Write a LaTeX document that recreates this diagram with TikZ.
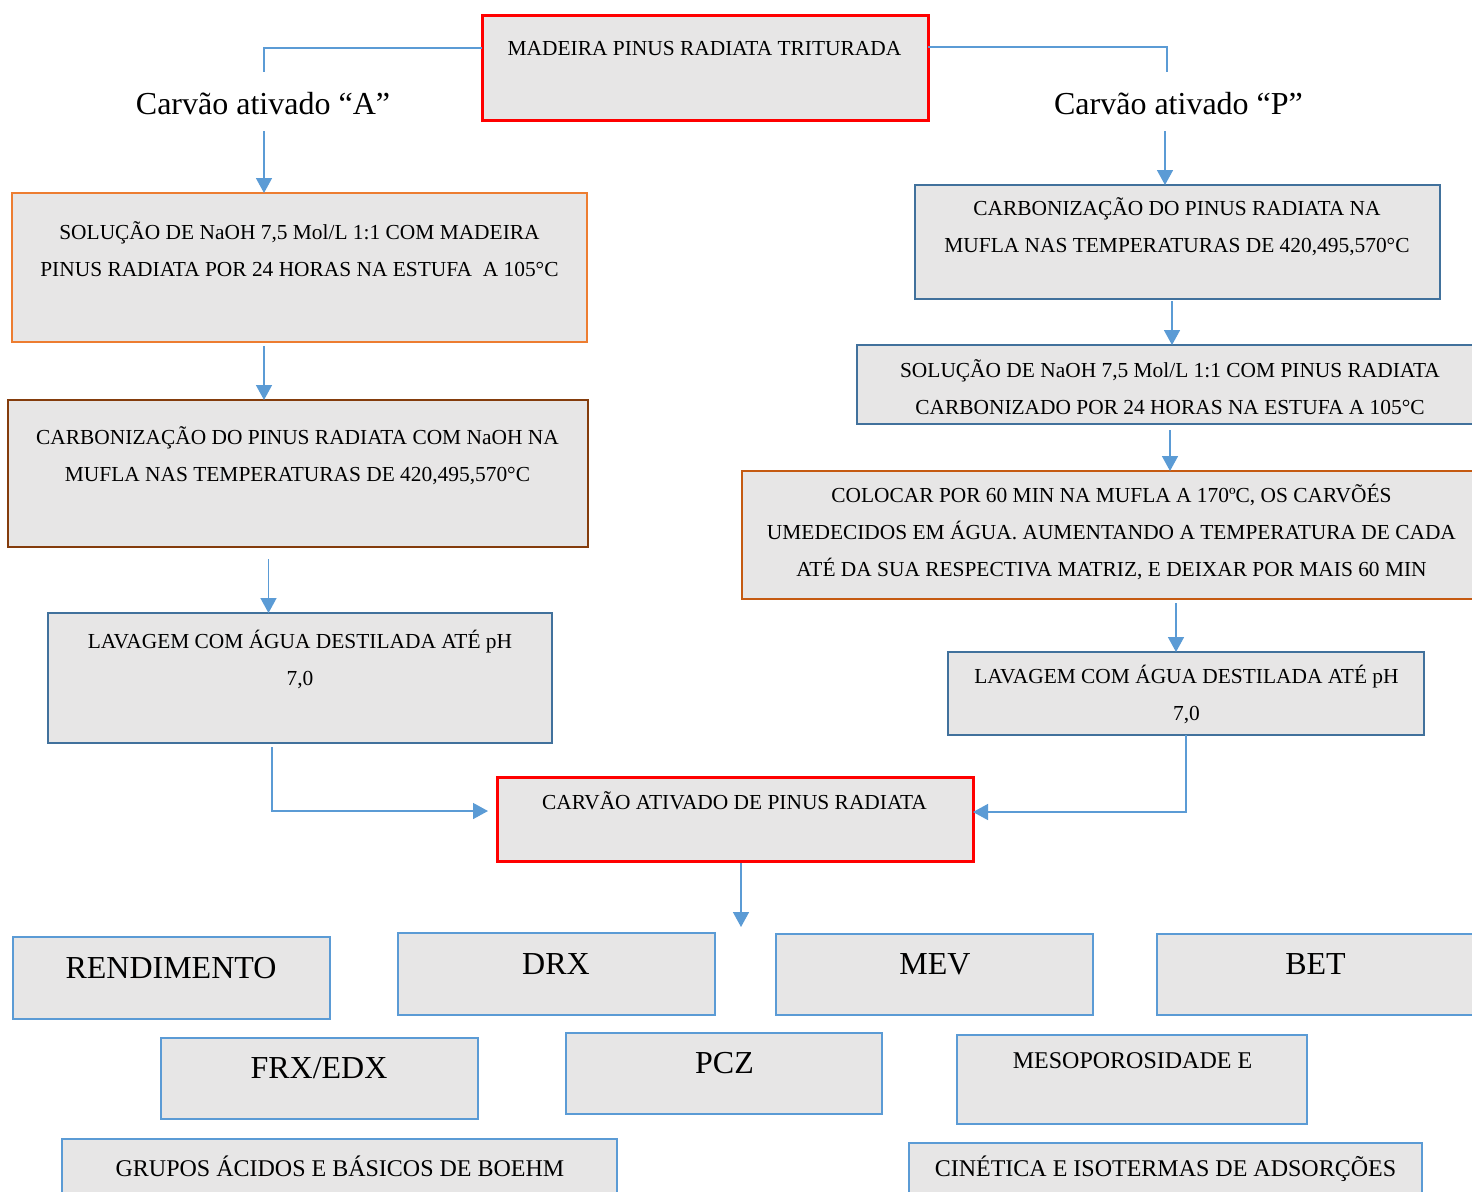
\documentclass[tikz,border=0pt]{standalone}
\usepackage{fontspec}
\setmainfont{Liberation Serif}
\usetikzlibrary{fit,arrows.meta}
\definecolor{boxgray}{HTML}{E7E6E6}
\definecolor{redb}{HTML}{FF0000}
\definecolor{orangeL}{HTML}{ED7D31}
\definecolor{brownb}{HTML}{843C0C}
\definecolor{blueD}{HTML}{41719C}
\definecolor{orangeR}{HTML}{C55A11}
\definecolor{blueL}{HTML}{5B9BD5}
\definecolor{connc}{HTML}{5B9BD5}
\begin{document}
\begin{tikzpicture}[x=0.5pt,y=-0.5pt,
 box/.style={fill=boxgray, inner sep=0pt, outer sep=0pt},
 redbox/.style={box, draw=redb, line width=1.5pt},
 orabox/.style={box, draw=orangeL, line width=1pt},
 brnbox/.style={box, draw=brownb, line width=1pt},
 dbbox/.style={box, draw=blueD, line width=1.2pt},
 orrbox/.style={box, draw=orangeR, line width=1pt},
 lbbox/.style={box, draw=blueL, line width=1.3pt},
 txt/.style={align=center, inner sep=0pt, font=\fontsize{10.7}{18.5}\selectfont},
 big/.style={inner sep=0pt, font=\fontsize{16}{19}\selectfont},
 mid/.style={inner sep=0pt, font=\fontsize{12}{14}\selectfont},
 conn/.style={draw=connc, line width=0.75pt},
 arr/.style={-{Triangle[width=8pt,length=7.5pt]}},
]
\useasboundingbox (0,0) rectangle (1472,1191);
\clip (0,0) rectangle (1472,1191);

% boxes
\node[redbox, fit={(482,15) (928,120)}] (top) {};
\node[orabox, fit={(12,193) (587,342)}] (solA) {};
\node[brnbox, fit={(8,400) (588,547)}] (carbA) {};
\node[dbbox, fit={(48,613) (552,743)}] (lavA) {};
\node[dbbox, fit={(915,185) (1440,299)}] (carbP) {};
\node[dbbox, fit={(857,345) (1490,424)}] (solP) {};
\node[orrbox, fit={(742,471) (1490,599)}] (colP) {};
\node[dbbox, fit={(948,652) (1424,735)}] (lavP) {};
\node[redbox, fit={(497,777) (973,861)}] (carvao) {};
\node[lbbox, fit={(13,937) (330,1019)}] (rend) {};
\node[lbbox, fit={(398,933) (715,1015)}] (drx) {};
\node[lbbox, fit={(776,934) (1093,1015)}] (mev) {};
\node[lbbox, fit={(1157,934) (1490,1015)}] (bet) {};
\node[lbbox, fit={(161,1038) (478,1119)}] (frx) {};
\node[lbbox, fit={(566,1033) (882,1114)}] (pcz) {};
\node[lbbox, fit={(957,1035) (1307,1124)}] (meso) {};
\node[lbbox, fit={(62,1139) (617,1210)}] (grupos) {};
\node[lbbox, fit={(909,1143) (1422,1210)}] (cin) {};

% texts
\node[txt] (topT) at (704.5,49) {MADEIRA PINUS RADIATA TRITURADA};
\node[big] (labA) at (263,104) {Carvão ativado “A”};
\node[big] (labP) at (1178.5,104) {Carvão ativado “P”};
\node[txt] (solAT) at (299.5,249.5) {SOLUÇÃO DE NaOH 7,5 Mol/L 1:1 COM MADEIRA\\PINUS RADIATA POR 24 HORAS NA ESTUFA \ A 105°C};
\node[txt] (carbAT) at (297.5,455.5) {CARBONIZAÇÃO DO PINUS RADIATA COM NaOH NA\\MUFLA NAS TEMPERATURAS DE 420,495,570°C};
\node[txt] (lavAT) at (300,659.5) {LAVAGEM COM ÁGUA DESTILADA ATÉ pH\\7,0};
\node[txt] (carbPT) at (1177,226.5) {CARBONIZAÇÃO DO PINUS RADIATA NA\\MUFLA NAS TEMPERATURAS DE 420,495,570°C};
\node[txt] (solPT) at (1170,387.5) {SOLUÇÃO DE NaOH 7,5 Mol/L 1:1 COM PINUS RADIATA\\CARBONIZADO POR 24 HORAS NA ESTUFA A 105°C};
\node[txt] (colPT) at (1111.5,532) {COLOCAR POR 60 MIN NA MUFLA A 170ºC, OS CARVÕÉS\\UMEDECIDOS EM ÁGUA. AUMENTANDO A TEMPERATURA DE CADA\\ATÉ DA SUA RESPECTIVA MATRIZ, E DEIXAR POR MAIS 60 MIN};
\node[txt] (lavPT) at (1186.5,694) {LAVAGEM COM ÁGUA DESTILADA ATÉ pH\\7,0};
\node[txt] (carvaoT) at (734.5,801) {CARVÃO ATIVADO DE PINUS RADIATA};
\node[big] (rendT) at (171,968) {RENDIMENTO};
\node[big] (drxT) at (556,964) {DRX};
\node[big] (mevT) at (935,964) {MEV};
\node[big] (betT) at (1315.5,964) {BET};
\node[big] (frxT) at (319,1068) {FRX/EDX};
\node[big] (pczT) at (724.5,1063) {PCZ};
\node[mid] (mesoT) at (1132.5,1061) {MESOPOROSIDADE E};
\node[mid] (gruposT) at (340,1166) {GRUPOS ÁCIDOS E BÁSICOS DE BOEHM};
\node[mid] (cinT) at (1165.5,1169) {CINÉTICA E ISOTERMAS DE ADSORÇÕES};

% helper coordinates
\coordinate (aBend) at (264,48);
\coordinate (aEnd) at (264,72);
\coordinate (pBend) at (1167,47);
\coordinate (pEnd) at (1167,72);
\coordinate (colA1) at (264,0);
\coordinate (colA2) at (268.5,0);
\coordinate (colA3) at (272,0);
\coordinate (colP1) at (1165,0);
\coordinate (colP2) at (1172,0);
\coordinate (colP3) at (1170,0);
\coordinate (colP4) at (1176,0);
\coordinate (colP5) at (1186,0);
\coordinate (colC) at (741,0);
\coordinate (cEnd) at (741,927);

% connectors
\draw[conn] (top.west |- aBend) -- (aBend) -- (aEnd);
\draw[conn] (top.east |- pBend) -- (pBend) -- (pEnd);
\draw[conn,arr] (colA1 |- 0,131) -- (colA1 |- solA.north);
\draw[conn,arr] (colP1 |- 0,131) -- (colP1 |- carbP.north);
\draw[conn,arr,shorten <=2pt] (colA1 |- solA.south) -- (colA1 |- carbA.north);
\draw[conn,arr,shorten <=6pt] (colA2 |- carbA.south) -- (colA2 |- lavA.north);
\draw[conn,arr,shorten <=1pt] (colP2 |- carbP.south) -- (colP2 |- solP.north);
\draw[conn,arr,shorten <=3pt] (colP3 |- solP.south) -- (colP3 |- colP.north);
\draw[conn,arr,shorten <=2pt] (colP4 |- colP.south) -- (colP4 |- lavP.north);
\draw[conn,arr,shorten <=2pt,shorten >=4.5pt] (colA3 |- lavA.south) |- ([yshift=4pt]carvao.west);
\draw[conn,arr] (colP5 |- lavP.south) |- ([yshift=3.5pt]carvao.east);
\draw[conn,arr,shorten <=1pt] (colC |- carvao.south) -- (cEnd);
\end{tikzpicture}
\end{document}
